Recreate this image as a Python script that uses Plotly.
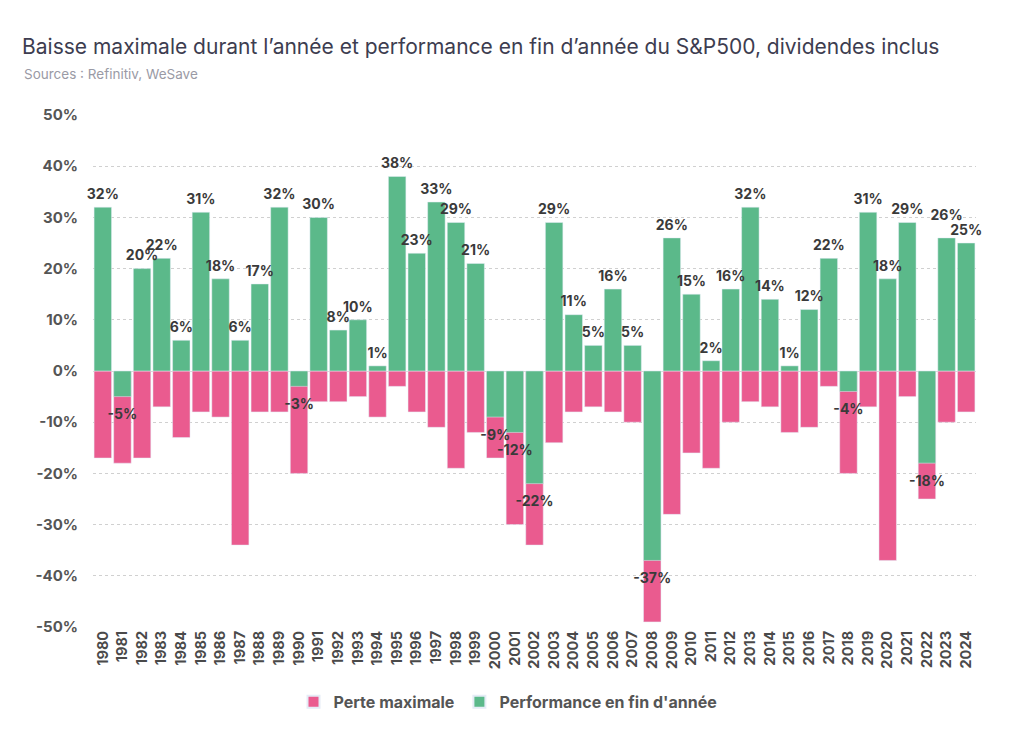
import plotly.graph_objects as go

years = [str(y) for y in range(1980, 2025)]

# Performance en fin d'année (%)
performance = [32, -5, 20, 22, 6, 31, 18, 6, 17, 32,
               -3, 30, 8, 10, 1, 38, 23, 33, 29, 21,
               -9, -12, -22, 29, 11, 5, 16, 5, -37, 26,
               15, 2, 16, 32, 14, 1, 12, 22, -4, 31,
               18, 29, -18, 26, 25]

# Perte maximale durant l'année (%)
perte_max = [-17, -18, -17, -7, -13, -8, -9, -34, -8, -8,
             -20, -6, -6, -5, -9, -3, -8, -11, -19, -12,
             -17, -30, -34, -14, -8, -7, -8, -10, -49, -28,
             -16, -19, -10, -6, -7, -12, -11, -3, -20, -7,
             -37, -5, -25, -10, -8]

y_ticks = [-50, -40, -30, -20, -10, 0, 10, 20, 30, 40, 50]
y_tick_labels = [f"{v}%" for v in y_ticks]

PINK = "#ea5b8f"
GREEN = "#5bb98a"
TEXT = "#3a3a3a"

# labels pushed further up to clear a neighbour
lifted = {"2023"}

fig = go.Figure()
fig.add_trace(go.Bar(x=years, y=perte_max, name="Perte maximale", marker_color=PINK,
                     hoverinfo="x+y"))
fig.add_trace(go.Bar(x=years, y=performance, name="Performance en fin d'année", marker_color=GREEN,
                     hoverinfo="x+y"))

# value labels: invisible markers on the bar ends, text above / below
pos = [(yr, v) for yr, v in zip(years, performance) if v >= 0]
neg = [(yr, v) for yr, v in zip(years, performance) if v < 0]
lbl_font = dict(family="Inter", size=14, color=TEXT, weight="bold")
fig.add_trace(go.Scatter(x=[p[0] for p in pos], y=[p[1] for p in pos], mode="markers+text",
                         text=[f"{p[1]}%" for p in pos], textposition="top center",
                         marker=dict(size=[22 if p[0] in lifted else 6 for p in pos], opacity=0),
                         textfont=lbl_font, showlegend=False, hoverinfo="skip", cliponaxis=False))
fig.add_trace(go.Scatter(x=[n[0] for n in neg], y=[n[1] for n in neg], mode="markers+text",
                         text=[f"{n[1]}%" for n in neg], textposition="bottom center",
                         marker=dict(size=18, opacity=0),
                         textfont=lbl_font, showlegend=False, hoverinfo="skip", cliponaxis=False))

# the page body adds an 8px offset, so margins are shifted by it
fig.update_layout(
    barmode="overlay", bargap=0.11,
    width=1024, height=751,
    margin=dict(l=85, r=56, t=107, b=132),
    plot_bgcolor="white", paper_bgcolor="white",
    font=dict(family="Inter", color=TEXT),
    title=dict(text="Baisse maximale durant l’année et performance en fin d’année du S&P500, dividendes inclus",
               x=0.0137, xanchor="left", y=0.949, yanchor="middle",
               font=dict(family="Inter", size=21, color="#3d3d50")),
    annotations=[dict(text="Sources : Refinitiv, WeSave", xref="paper", yref="paper",
                      x=-0.0804, y=1.08, xanchor="left", yanchor="middle", showarrow=False,
                      font=dict(family="Inter", size=13.5, color="#9a9aa5"))],
    legend=dict(orientation="h", x=0.47, xanchor="center", y=-0.146, yanchor="middle",
                font=dict(family="Inter", size=16, color="#555", weight="bold"),
                itemsizing="constant", traceorder="normal", itemwidth=30),
    showlegend=True,
    xaxis=dict(type="category", range=[-0.5, len(years) - 0.5], tickangle=-90,
               showgrid=False, ticks="",
               tickfont=dict(family="Inter", size=14.5, color="#4a4a4a", weight="bold")),
    yaxis=dict(range=[-50, 50], tickvals=y_ticks, ticktext=y_tick_labels,
               showgrid=True, gridcolor="#d0d0d0", griddash="dot", gridwidth=1,
               zeroline=True, zerolinecolor="#d8d8d8", zerolinewidth=1,
               tickfont=dict(family="Inter", size=15, color="#555", weight="bold"),
               ticklabelstandoff=14),
)

fig.write_html("out.html")
